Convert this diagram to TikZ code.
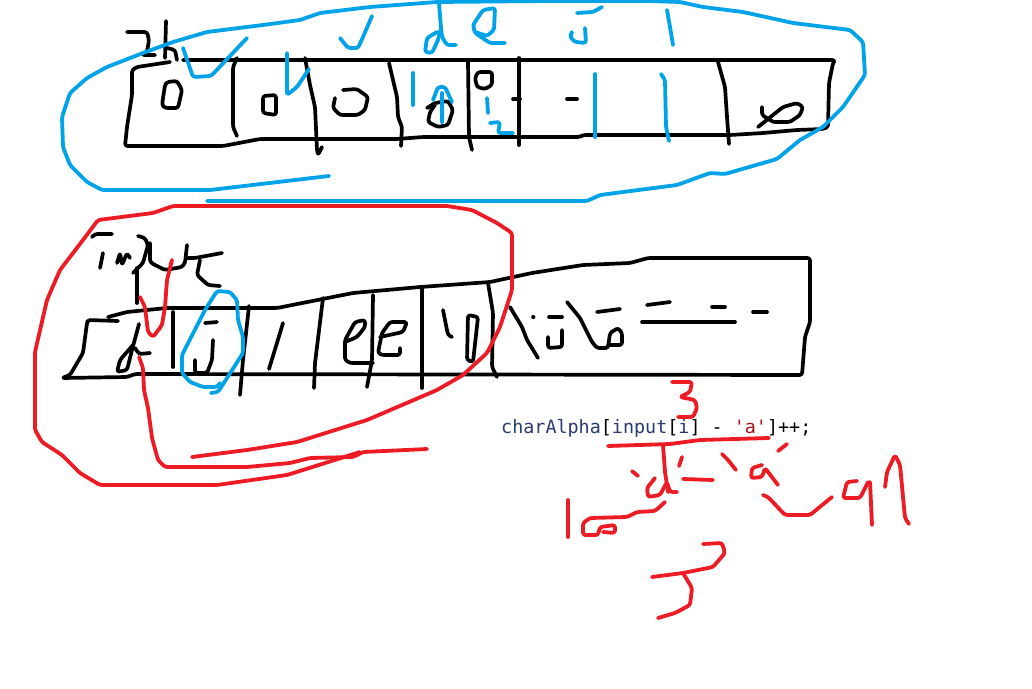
\documentclass[tikz,border=0pt]{standalone}
\usepackage{fontspec}
\setmonofont{DejaVu Sans Mono}
\definecolor{pblue}{HTML}{00A2E8}
\definecolor{pred}{HTML}{ED1C24}
\definecolor{codenavy}{HTML}{2A3A72}
\definecolor{codered}{HTML}{A31515}
\tikzset{
 ink/.style={draw=black,line width=3.7pt,line join=round,line cap=round,rounded corners=2.5pt},
 bink/.style={draw=pblue,line width=3.8pt,line join=round,line cap=round,rounded corners=2.5pt},
 rink/.style={draw=pred,line width=3.8pt,line join=round,line cap=round,rounded corners=2.5pt},
 codetext/.style={font=\ttfamily\fontsize{18.4}{20}\selectfont,inner sep=0pt,anchor=base west}
}
\begin{document}
\begin{tikzpicture}[x=1pt,y=-1pt]
\useasboundingbox (0,0) rectangle (1032,688);
\fill[white] (0,0) rectangle (1032,688);
% --- top box
\draw[ink] (170,62)--(137,67)--(132,70)--(132,95)--(127,127)--(125,146)--(223,146)--(260,139)--(397,139)--(423,137)--(450,137)--(580,137)--(583,135)--(730,135)--(763,133)--(797,130)--(823,129)--(828,127)--(829,83)--(833,63)--(835,60)--(183,60);
\draw[ink] (237,58)--(233,67)--(233,127)--(237,136);
\draw[ink] (305,58)--(310,85)--(315,107)--(317,150)--(318,155)--(322,147);
\draw[ink] (389,63)--(397,97)--(398,117)--(402,127)--(401,146);
\draw[ink] (468,62)--(469,137)--(472,150);
\draw[ink] (519,58)--(519,145);
\draw[ink] (718,62)--(725,87)--(727,117)--(729,144);
% digits
\draw[ink] (165,85)--(162,105)--(165,108)--(178,108)--(182,90)--(177,81)--(167,82)--cycle;
\draw[ink] (263,96)--(263,113)--(276,115)--(276,95)--cycle;
\draw[ink] (343,90)--(357,89)--(368,97)--(365,110)--(358,115)--(340,115)--(333,108)--(335,98);
\draw[ink] (427,108)--(435,103)--(448,101)--(453,110)--(448,125)--(438,127)--(428,122)--(430,112)--(435,105);
\draw[ink] (475,78)--(478,72)--(492,72)--(492,85)--(485,89)--(477,87)--cycle;
\draw[ink] (513,99)--(520,99);
\draw[ink] (567,99)--(577,99);
\draw[ink] (758,127)--(783,107)--(797,103)--(803,107)--(800,115)--(790,122)--(773,122)--(762,115)--(762,107);
% 2b
\draw[ink] (127,32)--(147,32)--(149,40)--(147,52)--(142,55)--(155,55);
\draw[ink] (166,21)--(165,58);
\draw[ink] (167,48)--(175,50)--(177,60);
% --- top blue
\draw[bink] (329,176)--(210,190)--(102,190)--(87,182)--(70,165)--(63,147)--(62,117)--(70,93)--(87,78)--(107,67)--(143,53)--(173,42)--(207,32)--(263,25)--(300,20)--(320,13)--(370,7)--(437,2)--(545,1)--(650,1)--(680,2)--(703,7)--(743,12)--(793,23)--(850,30)--(863,42)--(865,75)--(843,107)--(823,127)--(800,140)--(777,159)--(725,174)--(710,173)--(677,185)--(600,195)--(587,201)--(450,201)--(207,201);
\draw[bink] (183,48)--(193,77)--(211,76)--(247,38);
\draw[bink] (287,53)--(287,95)--(297,87)--(309,69);
\draw[bink] (340,38)--(348,48)--(358,48)--(363,37)--(372,16);
\draw[bink] (437,32)--(427,38)--(425,52)--(432,53)--(438,40)--(441,28);
\draw[bink] (439,3)--(441,28)--(442,37)--(447,45)--(456,45);
\draw[bink] (505,43)--(490,43)--(475,33)--(473,25)--(483,10)--(495,8)--(494,30)--(487,36)--(475,32);
\draw[bink] (577,13)--(593,12)--(602,7);
\draw[bink] (585,28)--(586,43)--(575,42)--(570,37)--(572,32);
\draw[bink] (667,10)--(670,27)--(673,45);
\draw[bink] (413,73)--(413,105);
\draw[bink] (433,100)--(438,87)--(445,87)--(452,102);
\draw[bink] (442,93)--(442,122);
\draw[bink] (487,98)--(488,113);
\draw[bink] (490,123)--(500,122)--(498,133)--(513,133);
\draw[bink] (595,74)--(595,137);
\draw[bink] (661,74)--(665,80)--(666,127)--(669,141);
% --- lower box
\draw[ink] (118,321)--(88,320)--(87,323)--(83,353)--(70,375)--(62,378)--(127,377)--(135,374)--(802,375)--(805,337)--(810,322)--(810,258)--(648,258)--(630,263)--(583,265)--(532,273)--(490,282)--(420,287)--(353,293)--(277,308)--(167,308)--(127,312)--(108,317);
\draw[ink] (173,312)--(173,367);
\draw[ink] (249,306)--(243,360)--(240,395);
\draw[ink] (323,298)--(315,363)--(314,388);
\draw[ink] (373,295)--(372,360)--(367,387);
\draw[ink] (422,288)--(422,388);
\draw[ink] (488,283)--(493,313)--(492,367)--(497,377);
% input
\draw[ink] (92,237)--(95,234)--(112,234);
\draw[ink] (103,253)--(100,268);
\draw[ink] (117,263)--(120,253)--(122,265)--(127,253)--(130,258);
\draw[ink] (137,268)--(137,303);
\draw[ink] (138,236)--(145,238)--(148,245)--(143,263)--(133,273);
\draw[ink] (150,243)--(150,262)--(155,265)--(165,270)--(182,267)--(185,263)--(187,245);
\draw[ink] (187,258)--(195,258)--(222,253);
\draw[ink] (200,260)--(197,275)--(208,285)--(220,286);
% lower letters
\draw[ink] (139,324)--(132,350)--(127,370)--(117,372)--(120,360)--(133,345);
\draw[ink] (135,348)--(139,354)--(150,353);
\draw[ink] (205,323)--(217,322);
\draw[ink] (213,340)--(212,360)--(207,373)--(195,373)--(195,360);
\draw[ink] (283,323)--(280,333)--(269,369);
\draw[ink] (345,342)--(357,337)--(365,327)--(365,320)--(355,322)--(345,340)--(345,360)--(350,363)--(373,363);
\draw[ink] (380,337)--(403,332)--(407,322)--(390,322)--(382,333)--(378,353)--(382,355)--(400,355)--(400,348);
\draw[ink] (443,310)--(448,335)--(452,337);
\draw[ink] (468,315)--(467,360)--(473,362)--(478,317)--cycle;
\draw[ink] (510,307)--(522,327)--(527,340)--(538,358);
\draw[ink] (533,317)--(533.5,317);
\draw[ink] (549,317)--(562,317);
\draw[ink] (562,330)--(562,347)--(548,348)--(548,337);
\draw[ink] (567,302)--(580,318)--(592,342)--(597,348)--(608,348)--(610,333)--(618,328)--(622,333)--(622,345)--(608,345);
\draw[ink] (597,312)--(620,309);
\draw[ink] (647,305)--(670,302);
\draw[ink] (642,322)--(735,322);
\draw[ink] (712,307)--(725,307);
\draw[ink] (753,312)--(767,312);
% blue ellipse
\draw[bink] (220,383)--(217,387)--(203,387)--(190,382)--(182,373)--(182,355)--(205,310)--(217,291)--(230,292)--(237,300)--(238,320)--(243,337)--(243,353)--(227,378)--(218,392)--(211,393);
% red big loops
\draw[rink] (192,457)--(247,450)--(297,442)--(367,420)--(437,390)--(463,375)--(487,353)--(500,327)--(512,290)--(512,233)--(497,223)--(472,210)--(447,206)--(173,206)--(153,213)--(98,220)--(83,240)--(60,270)--(47,300)--(35,352)--(35,430)--(42,442)--(62,455)--(80,473)--(100,485)--(217,485)--(287,475)--(360,452);
\draw[rink] (427,449)--(363,452)--(353,457)--(310,458)--(290,463)--(247,467)--(165,467)--(158,460)--(152,438)--(148,408)--(144,390)--(143,368)--(139,357);
\draw[rink] (140,297)--(145,307)--(148,332)--(153,337)--(162,325)--(165,307)--(167,280)--(172,260);
% code text
\node[codetext] (code) at (501,433) {\textcolor{codenavy}{charAlpha}[\textcolor{codenavy}{input}[\textcolor{codenavy}{i}] - \textcolor{codered}{'a'}]++;};
% red annotations
\draw[rink] (672,382)--(692,382)--(690,392)--(680,397)--(695,400)--(697,408)--(693,417)--(678,417);
\draw[rink] (608,446)--(670,444)--(700,440)--(769,438);
\draw[rink] (663,445)--(665,472)--(668,492);
\draw[rink] (655,478)--(647,488)--(648,497)--(660,495)--(667,482)--(670,492)--(677,492);
\draw[rink] (632,471)--(638,476);
\draw[rink] (682,457)--(679,466);
\draw[rink] (683,479)--(713,480);
\draw[rink] (722,454)--(728,460)--(736,470);
\draw[rink] (762,465)--(752,468)--(751,478)--(762,477)--(765,468)--(778,485);
\draw[rink] (787,444)--(778,451);
\draw[rink] (763,495)--(768,497)--(785,515)--(810,515)--(832,497);
\draw[rink] (857,481)--(847,482)--(843,498)--(860,498)--(868,482);
\draw[rink] (870,482)--(872,525);
\draw[rink] (885,487)--(887,472)--(895,455)--(900,465)--(905,518)--(909,524);
\draw[rink] (568,500)--(568,537);
\draw[rink] (665,502)--(655,511)--(637,512)--(627,517)--(590,518)--(583,523)--(583,535)--(598,535)--(600,527)--(615,525)--(615,533)--(603,532);
\draw[rink] (703,544)--(722,543)--(725,553)--(713,567)--(683,573)--(652,577);
\draw[rink] (683,573)--(692,588)--(690,605)--(675,613)--(658,618);
\end{tikzpicture}
\end{document}
